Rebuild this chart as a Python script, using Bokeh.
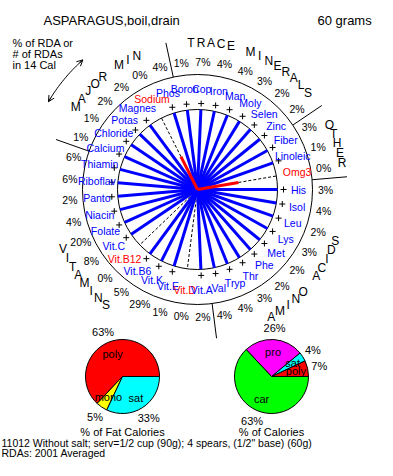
import numpy as np
from bokeh.plotting import figure
from bokeh.models import Range1d, ColumnDataSource, Arrow, OpenHead
from bokeh.core.properties import value
from bokeh.embed import file_html
from bokeh.resources import INLINE

# ---------------- data ----------------
title = "ASPARAGUS,boil,drain"
serving = "60 grams"
axis_note = ["% of RDA or", "# of RDAs", "in 14 Cal"]
footer = ['11012 Without salt; serv=1/2 cup (90g); 4 spears, (1/2" base) (60g)',
          "RDAs: 2001 Averaged"]

# nutrients counter-clockwise, starting at 3 o'clock
nutrients = ["His", "Omg3", "Linoleic", "Fiber", "Zinc", "Selen", "Moly", "Man", "Iron", "Cop", "Boron",
             "Phos", "Sodium", "Magnes", "Potas", "Chloride", "Calcium",
             "Thiamin", "Riboflav", "Panto", "Niacin", "Folate", "Vit.C", "Vit.B12", "Vit.B6",
             "Vit.K", "Vit.E", "Vit.D", "Vit.A",
             "Val", "Tryp", "Thr", "Phe", "Met", "Lys", "Leu", "Isol"]
pct_rda = [3, 0, 1, 3, 2, 2, 3, 4, 4, 7, 1,
           4, 0, 2, 2, 1, 1,
           6, 6, 2, 4, 20, 8, 0, 5, 29, 1, 0, 2,
           4, 4, 3, 2, 2, 3, 2, 4]
# spoke length as fraction of circle (1 = at or beyond circle)
spoke = [1, 0.52, 1, 1, 1, 1, 1, 1, 1, 1, 1,
         1, 0.46, 1, 1, 1, 1,
         1, 1, 1, 1, 1, 1, 0, 1, 1, 1, 0, 1,
         1, 1, 1, 1, 1, 1, 1, 1]
red_names = ["Omg3", "Sodium", "Vit.B12", "Vit.D"]

group_names = ["OTHER", "TRACE MINERALS", "MAJOR MIN", "VITAMINS", "AMINO ACIDS"]
group_start = [1, 4, 11, 17, 29]
group_count = [3, 7, 6, 12, 9]

fat_labels = ["poly", "mono", "sat"]
fat_values = [63, 5, 33]
fat_colors = ["#ff0000", "#ffff00", "#00ffff"]

cal_labels = ["poly", "sat", "pro", "car"]
cal_values = [7, 4, 26, 63]
cal_colors = ["#ff0000", "#00ffff", "#ff00ff", "#00ff00"]

# ---------------- figure ----------------
W, H = 377, 460
REF_H = 476
def Y(ry):
    return REF_H - ry

p = figure(width=W, height=H, x_range=Range1d(0, W), y_range=Range1d(Y(H), Y(0)),
           output_backend="svg", toolbar_location=None, min_border=0,
           x_axis_type=None, y_axis_type=None)
p.grid.visible = False
p.outline_line_color = None
p.background_fill_color = "white"
p.border_fill_color = "white"

F = value("Liberation Sans")

CX, CY = 197, Y(189)
R_IN, R_OUT = 80, 115
N = len(nutrients)
step = 2 * np.pi / N
ang = np.arange(N) * step
sp = np.array(spoke, dtype=float)

# circles
p.circle(x=[CX, CX], y=[CY, CY], radius=[R_IN, R_OUT], fill_color=None,
         line_color="black", line_width=1)

# dashed remainder for short spokes
short = sp < 1
p.segment(x0=CX + R_IN * sp[short] * np.cos(ang[short]), y0=CY + R_IN * sp[short] * np.sin(ang[short]),
          x1=CX + R_IN * np.cos(ang[short]), y1=CY + R_IN * np.sin(ang[short]),
          line_color="black", line_width=1, line_dash="3 2")

# spokes
full = sp >= 1
p.segment(x0=np.full(full.sum(), CX), y0=np.full(full.sum(), CY),
          x1=CX + R_IN * np.cos(ang[full]), y1=CY + R_IN * np.sin(ang[full]),
          line_color="#0000ff", line_width=3)
part = (sp > 0) & (sp < 1)
p.segment(x0=np.full(part.sum(), CX), y0=np.full(part.sum(), CY),
          x1=CX + R_IN * sp[part] * np.cos(ang[part]), y1=CY + R_IN * sp[part] * np.sin(ang[part]),
          line_color="#ff0000", line_width=3)

# plus markers beyond circle
p.scatter(x=CX + 86 * np.cos(ang[full]), y=CY + 86 * np.sin(ang[full]), marker="cross",
          size=6, line_color="black", line_width=1)

# nutrient names
name_colors = ["#ff0000" if n in red_names else "#0000ff" for n in nutrients]
p.text(x=CX + 101 * np.cos(ang), y=CY + 101 * np.sin(ang), text=nutrients,
       text_color=name_colors, text_font=F, text_font_size="10.5px",
       text_align="center", text_baseline="middle")

# percentages
p.text(x=CX + 128 * np.cos(ang), y=CY + 128 * np.sin(ang), text=[f"{v}%" for v in pct_rda],
       text_color="black", text_font=F, text_font_size="10.5px",
       text_align="center", text_baseline="middle")

# group separators and letters
lx, ly, lt = [], [], []
sep_a = []
cstep = np.deg2rad(3.95)
for name, s, c in zip(group_names, group_start, group_count):
    sep_a.append((s - 0.5) * step)
    mid = (s + (c - 1) / 2) * step - np.deg2rad(1.2)
    n = len(name)
    upper = np.sin(mid) > 0
    for k, ch in enumerate(name):
        off = ((n - 1) / 2 - k) if upper else (k - (n - 1) / 2)
        a = mid + off * cstep
        lx.append(CX + 147 * np.cos(a))
        ly.append(CY + 147 * np.sin(a))
        lt.append(ch)
sep_a = np.array(sep_a)
p.segment(x0=CX + R_OUT * np.cos(sep_a), y0=CY + R_OUT * np.sin(sep_a),
          x1=CX + 150 * np.cos(sep_a), y1=CY + 150 * np.sin(sep_a),
          line_color="black", line_width=1)
p.text(x=lx, y=ly, text=lt, text_color="black", text_font=F, text_font_size="12px",
       text_align="center", text_baseline="middle")

# double arrow (arc)
t = np.deg2rad(np.linspace(131.5, 149.5, 25))
ax, ay = CX + 173 * np.cos(t), CY + 173 * np.sin(t)
p.line(ax, ay, line_color="black", line_width=1)
p.add_layout(Arrow(end=OpenHead(size=6, line_width=1), x_start=ax[2], y_start=ay[2],
                   x_end=ax[0], y_end=ay[0], line_width=1))
p.add_layout(Arrow(end=OpenHead(size=6, line_width=1), x_start=ax[-3], y_start=ay[-3],
                   x_end=ax[-1], y_end=ay[-1], line_width=1))

# titles / notes
p.text(x=[43], y=[Y(20)], text=[title], text_font=F, text_font_size="13px",
       text_align="left", text_baseline="middle", text_color="black")
p.text(x=[317], y=[Y(20)], text=[serving], text_font=F, text_font_size="13px",
       text_align="left", text_baseline="middle", text_color="black")
p.text(x=[12] * 3, y=[Y(42), Y(53), Y(64)], text=axis_note, text_font=F, text_font_size="11px",
       text_align="left", text_baseline="middle", text_color="black")
p.text(x=[1, 1], y=[Y(442), Y(452)], text=footer, text_font=F, text_font_size="10.5px",
       text_align="left", text_baseline="middle", text_color="black")

# pies
PIE_Y = 376
def pie(cx, cy, labels, vals, colors, caption):
    r = 37
    cum = np.cumsum([0] + list(vals)) * 2 * np.pi / 100.0
    start = cum[:-1]
    end = np.minimum(cum[1:], 2 * np.pi)
    src = ColumnDataSource(dict(start=start, end=end, color=colors))
    p.wedge(x=cx, y=cy, radius=r, start_angle="start", end_angle="end", fill_color="color",
            line_color="black", line_width=1, source=src)
    mid = (start + end) / 2
    p.text(x=cx + 25 * np.cos(mid), y=cy + 25 * np.sin(mid), text=labels, text_font=F,
           text_font_size="11px", text_align="center", text_baseline="middle", text_color="black")
    p.text(x=cx + 49 * np.cos(mid), y=cy + 49 * np.sin(mid), text=[f"{v}%" for v in vals],
           text_font=F, text_font_size="11px", text_align="center", text_baseline="middle",
           text_color="black")
    p.text(x=[cx], y=[Y(PIE_Y + 55)], text=[caption], text_font=F, text_font_size="11px",
           text_align="center", text_baseline="middle", text_color="black")

pie(122, Y(PIE_Y), fat_labels, fat_values, fat_colors, "% of Fat Calories")
pie(271, Y(PIE_Y), cal_labels, cal_values, cal_colors, "% of Calories")

open("out.html", "w").write(file_html(p, INLINE))
